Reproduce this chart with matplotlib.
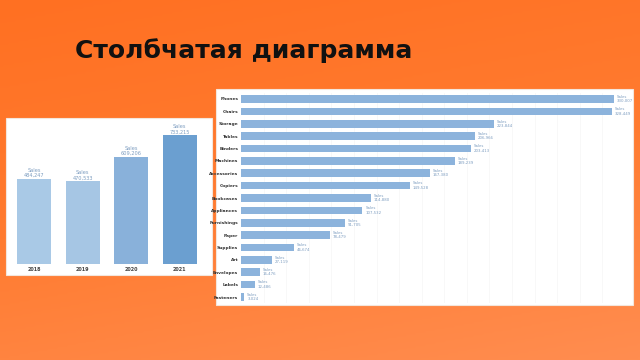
import numpy as np
import matplotlib
matplotlib.use('Agg')
import matplotlib.pyplot as plt
from matplotlib.patches import Rectangle
from matplotlib.colors import LinearSegmentedColormap

# data
title = 'Столбчатая диаграмма'
years = ['2018', '2019', '2020', '2021']
year_sales = [484247, 470533, 609206, 733215]
year_colors = ['#a9c9e6', '#a6c6e4', '#89b1da', '#6b9fd0']

categories = ['Phones', 'Chairs', 'Storage', 'Tables', 'Binders', 'Machines',
              'Accessories', 'Copiers', 'Bookcases', 'Appliances', 'Furnishings',
              'Paper', 'Supplies', 'Art', 'Envelopes', 'Labels', 'Fasteners']
cat_sales = [330007, 328449, 223844, 206966, 203413, 189239, 167380, 149528,
             114880, 107532, 91705, 78479, 46674, 27119, 16476, 12486, 3024]

W, H = 640, 360


def fig_rect(x0, y0, x1, y1):
    # pixel box (top-left origin) -> figure fraction [l, b, w, h]
    return [x0 / W, 1 - y1 / H, (x1 - x0) / W, (y1 - y0) / H]


def main():
    fig = plt.figure(figsize=(6.4, 3.6), dpi=100)

    # orange gradient background
    bg = fig.add_axes([0, 0, 1, 1], zorder=-1)
    cmap = LinearSegmentedColormap.from_list('bg', ['#ff7022', '#ff7b30', '#ff8d50'])
    yy, xx = np.mgrid[0:1:200j, 0:1:200j]
    grad = 0.75 * yy + 0.25 * xx
    bg.imshow(grad, cmap=cmap, extent=[0, 1, 0, 1], origin='upper', aspect='auto')
    bg.set_xlim(0, 1)
    bg.set_ylim(0, 1)
    bg.axis('off')

    # white panels
    for box in [(6, 118, 212, 275), (216, 89, 633, 305)]:
        l, b, w, h = fig_rect(*box)
        bg.add_patch(Rectangle((l, b), w, h, facecolor='white', edgecolor='#f3e6dc',
                               lw=0.8, zorder=3))

    bg.text(75 / W, 1 - 51 / H, title, fontsize=18, fontweight='bold',
            color='#111111', va='center', ha='left', family='DejaVu Sans', zorder=4)

    # left: sales by year
    ax1 = fig.add_axes(fig_rect(10, 122, 204, 264))
    x = np.arange(len(years))
    ax1.bar(x, year_sales, width=0.7, color=year_colors)
    ax1.set_xlim(-0.5, len(years) - 0.5)
    ax1.set_ylim(0, max(year_sales) * 142 / 129)
    for xi, v in zip(x, year_sales):
        ax1.text(xi, v + 4000, 'Sales\n{:,}'.format(v), ha='center', va='bottom',
                 fontsize=3.6, color='#7d9dc0', linespacing=1.1)
    ax1.set_xticks(x)
    ax1.set_xticklabels(years, fontsize=3.5, color='#444444', fontweight='bold')
    ax1.tick_params(axis='x', length=0, pad=2)
    ax1.set_yticks([])
    for s in ax1.spines.values():
        s.set_visible(False)
    ax1.patch.set_alpha(0)

    # right: sales by sub-category
    ax2 = fig.add_axes(fig_rect(241, 92.8, 625, 303.2))
    y = np.arange(len(categories))
    ax2.barh(y, cat_sales, height=0.62, color='#8cb3dc', zorder=2)
    ax2.set_ylim(len(categories) - 0.5, -0.5)
    ax2.set_xlim(0, 340000)
    ax2.set_xticks(np.arange(20000, 340001, 20000))
    ax2.grid(axis='x', color='#f7f7f7', lw=0.6, zorder=0)
    ax2.tick_params(axis='x', length=0, labelbottom=False)
    ax2.set_yticks(y)
    ax2.set_yticklabels(categories, fontsize=3.2, color='#333333', fontweight='bold')
    ax2.tick_params(axis='y', length=0, pad=2)
    for yi, v in zip(y, cat_sales):
        ax2.text(v + 2500, yi, 'Sales\n{:,}'.format(v), ha='left', va='center',
                 fontsize=2.8, color='#7d9dc0', linespacing=1.1)
    for s in ax2.spines.values():
        s.set_visible(False)
    ax2.patch.set_alpha(0)

    fig.savefig('out.png', dpi=100)
    plt.close(fig)


if __name__ == '__main__':
    main()
